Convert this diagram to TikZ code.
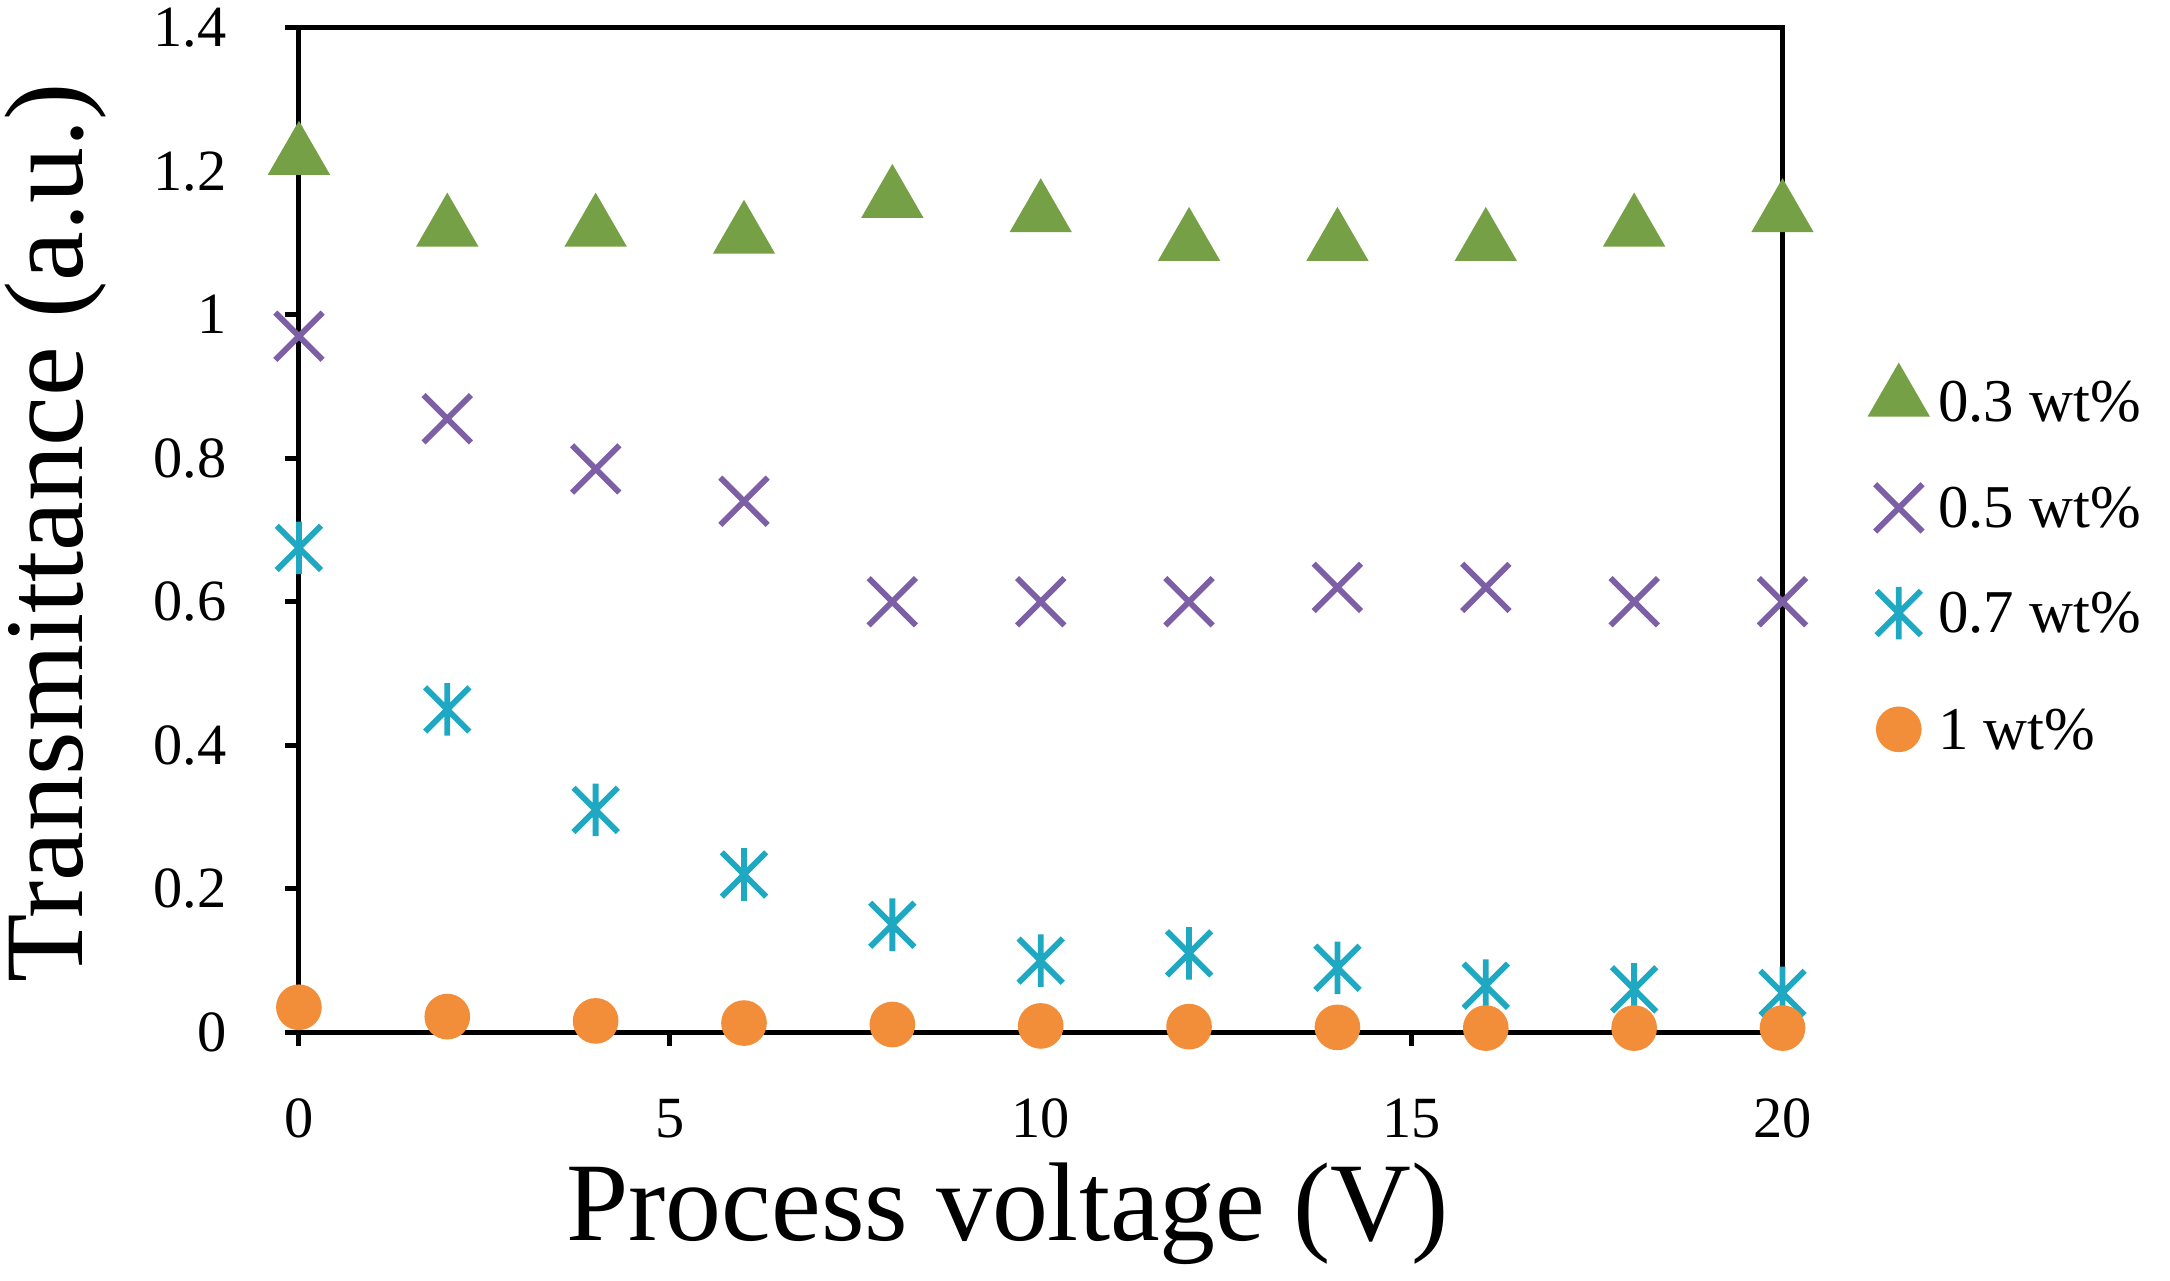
\documentclass[tikz,border=0pt]{standalone}
\usepackage{fontspec}
\setmainfont{Liberation Serif}
\usetikzlibrary{shapes.geometric,shapes.misc}
\definecolor{cg}{HTML}{76A045}
\definecolor{cp}{HTML}{7D5FA6}
\definecolor{cc}{HTML}{1EA8C2}
\definecolor{co}{HTML}{F28E3A}
\tikzset{
 tri/.style={regular polygon,regular polygon sides=3,fill=cg,minimum size=0.52cm,inner sep=0pt},
 xm/.style={cross out,draw=cp,line width=1.2pt,minimum size=0.3cm,inner sep=0pt},
 ci/.style={circle,fill=co,minimum size=0.33cm,inner sep=0pt},
 tick/.style={font=\fontsize{12}{14}\selectfont},
 leg/.style={font=\fontsize{12.5}{15}\selectfont,anchor=west},
 pics/ast/.style={code={\draw[cc,line width=1.2pt] (-0.16cm,-0.16cm)--(0.16cm,0.16cm) (-0.16cm,0.16cm)--(0.16cm,-0.16cm) (0,-0.19cm)--(0,0.19cm);}}
}
\begin{document}
\begin{tikzpicture}[x=0.536cm,y=5.186cm]
\useasboundingbox (-2.16cm,-1.79cm) rectangle (13.52cm,7.46cm);
\draw[line width=1pt] (0,0) rectangle (20,1.4);
\foreach \v in {0,0.2,0.4,0.6,0.8,1,1.2,1.4}{
  \draw[line width=1pt] (0,\v) -- ++(-0.1cm,0);
  \node[tick,anchor=east] at (-0.4cm,\v) {\v};}
\foreach \v in {0,5,10,15,20}{
  \draw[line width=1pt] (\v,0) -- ++(0,-0.1cm);
  \node[tick] at (\v,-0.62cm) {\v};}
\node[rotate=90,font=\fontsize{23}{26}\selectfont] (yl) at (-1.76cm,3.61cm) {Transmittance (a.u.)};
\node[font=\fontsize{23}{26}\selectfont] (xl) at (5.12cm,-1.31cm) {Process voltage (V)};
\foreach \x/\y in {0/1.22,2/1.12,4/1.12,6/1.11,8/1.16,10/1.14,12/1.10,14/1.10,16/1.10,18/1.12,20/1.14}
  \node[tri] at (\x,\y) {};
\foreach \x/\y in {0/0.97,2/0.855,4/0.785,6/0.74,8/0.60,10/0.60,12/0.60,14/0.62,16/0.62,18/0.60,20/0.60}
  \node[xm] at (\x,\y) {};
\foreach \x/\y in {0/0.675,2/0.45,4/0.31,6/0.22,8/0.15,10/0.10,12/0.11,14/0.09,16/0.065,18/0.06,20/0.055}
  \pic at (\x,\y) {ast};
\foreach \x/\y in {0/0.035,2/0.022,4/0.016,6/0.013,8/0.011,10/0.009,12/0.008,14/0.007,16/0.006,18/0.006,20/0.006}
  \node[ci] at (\x,\y) {};
\node[tri] (l1) at (11.56cm,4.58cm) {};
\node[xm] (l2) at (11.56cm,3.79cm) {};
\pic at (11.56cm,3.03cm) {ast};
\node[ci] (l4) at (11.56cm,2.19cm) {};
\node[leg] at (11.72cm,4.56cm) {0.3 wt\%};
\node[leg] at (11.72cm,3.79cm) {0.5 wt\%};
\node[leg] at (11.72cm,3.03cm) {0.7 wt\%};
\node[leg] at (11.72cm,2.19cm) {1 wt\%};
\end{tikzpicture}
\end{document}
